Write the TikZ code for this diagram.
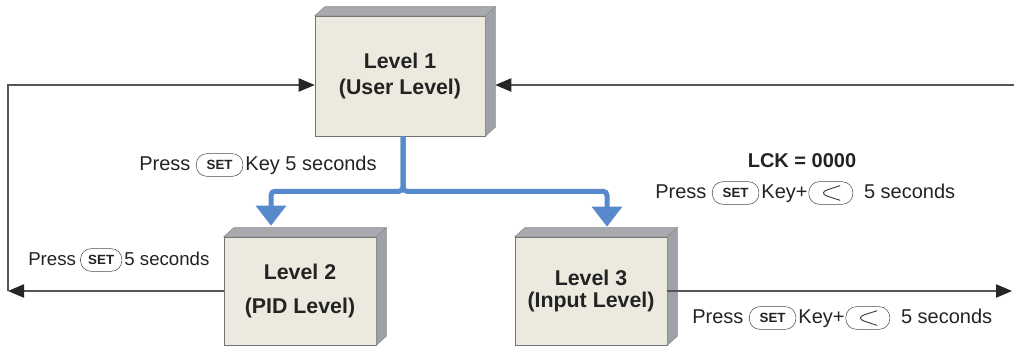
\documentclass[tikz,border=0pt]{standalone}
\usepackage{fontspec}
\setmainfont{Liberation Sans}
\usetikzlibrary{arrows.meta,positioning}

\definecolor{boxface}{RGB}{236,234,223}
\definecolor{topface}{RGB}{168,170,176}
\definecolor{sideface}{RGB}{158,161,168}
\definecolor{wiregray}{RGB}{85,85,85}
\definecolor{pipeblue}{RGB}{88,137,205}
\definecolor{inkgray}{RGB}{35,35,35}

\begin{document}
\begin{tikzpicture}[
    x=0.75pt, y=-0.75pt,
    node distance=2pt,
    level/.style={rectangle, draw=black!55, fill=boxface, minimum width=114pt, minimum height=81pt, align=center, text=inkgray, font=\fontsize{16}{19}\selectfont\bfseries},
    lbl/.style={inner sep=0pt, text height=11pt, text depth=3pt, text=inkgray, font=\fontsize{15}{17}\selectfont},
    keycap/.style={draw=black!70, rounded corners=8pt, minimum width=35pt, minimum height=17pt, inner sep=0pt, text=inkgray, font=\fontsize{10}{11}\selectfont\bfseries},
    arrowkey/.style={keycap, minimum width=33pt, path picture={
        \draw[black!75, line width=0.7pt] ([xshift=7pt,yshift=5.5pt]path picture bounding box.center)
            -- ([xshift=-10pt]path picture bounding box.center)
            -- ([xshift=7pt,yshift=-5.5pt]path picture bounding box.center);}},
    wire/.style={draw=wiregray, line width=0.8pt, -{Triangle[length=12pt, width=10pt, color=black!85]}},
    pipe/.style={draw=pipeblue, line width=3.75pt, rounded corners=3pt, -{Triangle[length=15pt, width=22pt]}}
]
    \useasboundingbox (0,0) rectangle (1014,347);

    % Levels
    \node[level, minimum width=127.5pt, minimum height=90pt] (lv1) at (400,76) {Level 1\\[1pt](User Level)};
    \node[level] (lv2) at (300,291) {Level 2\\[7pt](PID Level)};
    \node[level] (lv3) at (591,291) {Level 3\\[-2pt](Input Level)};

    % 3D faces
    \foreach \n in {lv1,lv2,lv3} {
        \filldraw[fill=topface, draw=black!45, line width=0.4pt] (\n.north west) -- ++(10,-9) -- ([shift={(10,-9)}]\n.north east) -- (\n.north east) -- cycle;
        \filldraw[fill=sideface, draw=black!45, line width=0.4pt] (\n.north east) -- ++(10,-9) -- ([shift={(10,-9)}]\n.south east) -- (\n.south east) -- cycle;
    }

    % Free ends
    \coordinate (cornerL) at (8,291);
    \coordinate (exitR) at (1012,291);
    \coordinate (entryR) at (1014,85);

    % Connectors
    \draw[wire] (lv2.west) -- (cornerL);
    \draw[wire] (cornerL) |- ([yshift=-6.75pt]lv1.west);
    \draw[wire] (lv3.east) -- (exitR);
    \draw[wire] (entryR) -- ([shift={(10,9)}]lv1.east);
    \draw[pipe] ([xshift=2.25pt]lv1.south) -- ++(0,55) -| ([shift={(-29,-11)}]lv2.north);
    \draw[pipe] ([xshift=2.25pt]lv1.south) -- ++(0,55) -| ([shift={(16,-10)}]lv3.north);

    % Key labels
    \node[lbl, anchor=west] (pa1) at (139,165) {Press};
    \node[keycap, right=4pt of pa1] (pa2) {SET};
    \node[lbl, right=1.5pt of pa2] (pa3) {Key 5 seconds};

    \node[lbl, font=\fontsize{15}{17}\selectfont\bfseries] (lck) at (802,162) {LCK = 0000};
    \node[lbl, anchor=west] (pb1) at (655,193) {Press};
    \node[keycap, right=4pt of pb1] (pb2) {SET};
    \node[lbl, right=1.5pt of pb2] (pb3) {Key+};
    \node[arrowkey, right=0.5pt of pb3] (pb4) {};
    \node[lbl, right=8pt of pb4] (pb5) {5 seconds};

    \node[lbl, anchor=west, font=\fontsize{14}{16}\selectfont] (pc1) at (28,260) {Press};
    \node[keycap, minimum width=31pt, right=3pt of pc1] (pc2) {SET};
    \node[lbl, right=1.5pt of pc2, font=\fontsize{14}{16}\selectfont] (pc3) {5 seconds};

    \node[lbl, anchor=west] (pd1) at (692,318) {Press};
    \node[keycap, right=4pt of pd1] (pd2) {SET};
    \node[lbl, right=1.5pt of pd2] (pd3) {Key+};
    \node[arrowkey, right=0.5pt of pd3] (pd4) {};
    \node[lbl, right=8pt of pd4] (pd5) {5 seconds};
\end{tikzpicture}
\end{document}
